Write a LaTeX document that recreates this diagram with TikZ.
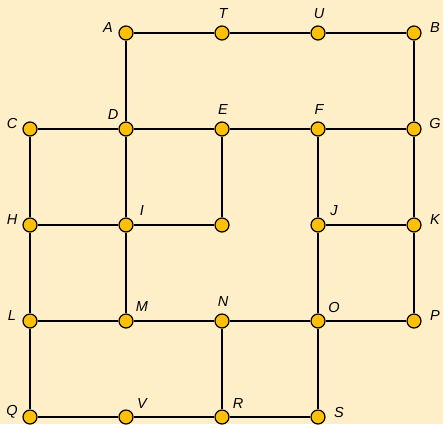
\documentclass[tikz,border=0pt]{standalone}
\usepackage{fontspec}
\setmainfont{Liberation Sans}
\usetikzlibrary{positioning}
\definecolor{paper}{HTML}{FFEFC9}
\definecolor{dot}{HTML}{FFC000}

\begin{document}
\begin{tikzpicture}[x=1pt, y=-1pt, node distance=96pt, on grid,
    pt/.style={circle, draw=black, fill=dot, line width=1.2pt, minimum size=14pt, inner sep=0pt},
    lbl/.style={font=\fontsize{14.5}{16}\selectfont\itshape},
    lft/.style={label={[lbl, xshift=-18pt, yshift=5pt]center:#1}},
    rgt/.style={label={[lbl, xshift=21pt, yshift=5pt]center:#1}},
    abv/.style={label={[lbl, xshift=1pt, yshift=19pt]center:#1}},
    abl/.style={label={[lbl, xshift=-13pt, yshift=14pt]center:#1}},
    abr/.style={label={[lbl, xshift=16pt, yshift=14pt]center:#1}},
    edge/.style={draw, line width=1.3pt}]
    \fill[paper] (0,0) rectangle (443,424);
    \useasboundingbox (0,0) rectangle (443,424);

    % top row
    \node[pt, lft=A] (A) at (126,33) {};
    \node[pt, abv=T] (T) [right=of A] {};
    \node[pt, abv=U] (U) [right=of T] {};
    \node[pt, rgt=B] (B) [right=of U] {};
    % second row
    \node[pt, abl=D] (D) [below=of A] {};
    \node[pt, lft=C] (C) [left=of D] {};
    \node[pt, abv=E] (E) [right=of D] {};
    \node[pt, abv=F] (F) [right=of E] {};
    \node[pt, rgt=G] (G) [right=of F] {};
    % third row
    \node[pt, lft=H] (H) [below=of C] {};
    \node[pt, abr=I] (I) [right=of H] {};
    \node[pt] (X) [right=of I] {};
    \node[pt, abr=J] (J) [right=of X] {};
    \node[pt, rgt=K] (K) [right=of J] {};
    % fourth row
    \node[pt, lft=L] (L) [below=of H] {};
    \node[pt, abr=M] (M) [right=of L] {};
    \node[pt, abv=N] (N) [right=of M] {};
    \node[pt, abr=O] (O) [right=of N] {};
    \node[pt, rgt=P] (P) [right=of O] {};
    % bottom row
    \node[pt, lft=Q] (Q) [below=of L] {};
    \node[pt, abr=V] (V) [right=of Q] {};
    \node[pt, abr=R] (R) [right=of V] {};
    \node[pt, rgt=S] (S) [right=of R] {};

    \path[edge] (A) -- (T) -- (U) -- (B) -- (G) -- (K) -- (P) -- (O) -- (N) -- (M) -- (L);
    \path[edge] (A) -- (D) -- (I) -- (M);
    \path[edge] (C) -- (D) -- (E) -- (F) -- (G);
    \path[edge] (C) -- (H) -- (L) -- (Q) -- (V) -- (R) -- (S) -- (O) -- (J) -- (F);
    \path[edge] (H) -- (I) -- (X) -- (E);
    \path[edge] (J) -- (K);
    \path[edge] (N) -- (R);
\end{tikzpicture}
\end{document}
